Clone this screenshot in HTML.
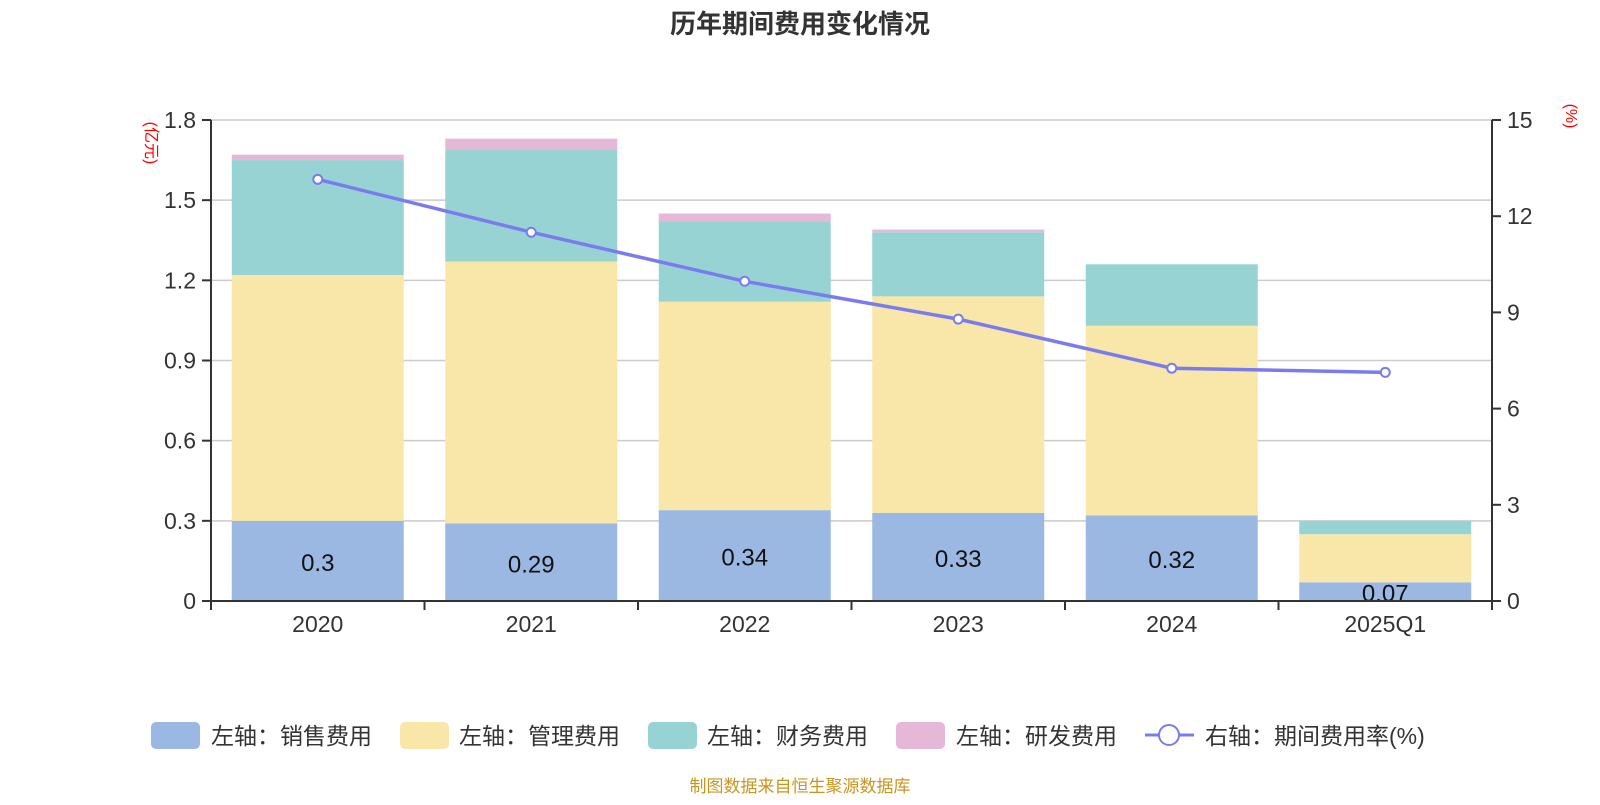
<!DOCTYPE html>
<html><head><meta charset="utf-8"><style>
body{margin:0;background:#fff;font-family:"Liberation Sans","Noto Sans CJK SC",sans-serif;}
svg text{font-family:"Liberation Sans","Noto Sans CJK SC",sans-serif;}
</style></head><body>
<svg id="c" width="1600" height="800" xmlns="http://www.w3.org/2000/svg">
<text x="800" y="33" text-anchor="middle" font-size="26" font-weight="bold" fill="#333">历年期间费用变化情况</text>
<text transform="translate(146,143) rotate(90)" text-anchor="middle" font-size="16" fill="red">(亿元)</text>
<text transform="translate(1566,116) rotate(90)" text-anchor="middle" font-size="16" fill="red">(%)</text>
<g id="grid"></g><g id="bars"></g><g id="axes"></g><g id="line"></g>
<g font-size="23" fill="#333">
<rect x="151" y="722" width="49" height="27" rx="5" fill="#9bb8e2"/><text x="211" y="744">左轴：销售费用</text>
<rect x="400" y="722" width="49" height="27" rx="5" fill="#f8e7a8"/><text x="459" y="744">左轴：管理费用</text>
<rect x="648" y="722" width="49" height="27" rx="5" fill="#98d3d4"/><text x="707" y="744">左轴：财务费用</text>
<rect x="896" y="722" width="49" height="27" rx="5" fill="#e6b8d8"/><text x="956" y="744">左轴：研发费用</text>
<line x1="1145" y1="735" x2="1194" y2="735" stroke="#7b7bf0" stroke-width="3"/><circle cx="1169" cy="735" r="10" fill="#fff" stroke="#7b7bf0" stroke-width="2"/><text x="1205" y="744">右轴：期间费用率(%)</text>
</g>
<text x="800" y="792" text-anchor="middle" font-size="17" fill="#c8961e">制图数据来自恒生聚源数据库</text>
</svg>
<script>
const categories=["2020","2021","2022","2023","2024","2025Q1"];
const sales=[0.30,0.29,0.34,0.33,0.32,0.07];
const admin=[0.92,0.98,0.78,0.81,0.71,0.18];
const finance=[0.43,0.42,0.30,0.24,0.23,0.05];
const rd=[0.02,0.04,0.03,0.01,0,0];
const rate=[13.15,11.5,9.97,8.79,7.26,7.13];
const leftTicks=["0","0.3","0.6","0.9","1.2","1.5","1.8"];
const rightTicks=["0","3","6","9","12","15"];
const NS="http://www.w3.org/2000/svg";
const X0=211,X1=1492,Y0=601,Y1=120;
const yL=v=>Y0-(v/1.8)*(Y0-Y1);
const yR=v=>Y0-(v/15)*(Y0-Y1);
const bw=(X1-X0)/categories.length;
const xc=i=>X0+bw*(i+0.5);
function mk(t,a,p){const e=document.createElementNS(NS,t);for(const k in a)e.setAttribute(k,a[k]);document.getElementById(p).appendChild(e);return e;}
leftTicks.forEach((t,i)=>{const v=+t,y=yL(v);
 const g=mk('line',{x1:X0,x2:X1,y1:y,y2:y,stroke:i==0?'#333':'#ccc','stroke-width':1.5},'grid');
 
 
 const tk=mk('line',{x1:X0-9,x2:X0,y1:y,y2:y,stroke:'#333','stroke-width':2},'axes');
 
 
 const tx=mk('text',{x:X0-15,y:y+8,'text-anchor':'end','font-size':23,fill:'#333'},'axes');tx.textContent=t;
 
 });
rightTicks.forEach(t=>{const y=yR(+t);
 const tk=mk('line',{x1:X1,x2:X1+9,y1:y,y2:y,stroke:'#333','stroke-width':2},'axes');
 
 
 const tx=mk('text',{x:X1+15,y:y+8,'font-size':23,fill:'#333'},'axes');tx.textContent=t;
 
 });
let a=mk('line',{x1:X0,x2:X0,y1:Y1,y2:Y0,stroke:'#333','stroke-width':2},'axes');


a=mk('line',{x1:X1,x2:X1,y1:Y1,y2:Y0,stroke:'#333','stroke-width':2},'axes');


a=mk('line',{x1:X0-3,x2:X1+3,y1:Y0,y2:Y0,stroke:'#333','stroke-width':2},'axes');


for(let i=0;i<=categories.length;i++){const t=mk('line',{x1:X0+bw*i,x2:X0+bw*i,y1:Y0,y2:Y0+9,stroke:'#333','stroke-width':2},'axes');
 
 }
const series=[[sales,'#9bb8e2','bar-sales'],[admin,'#f8e7a8','bar-admin'],[finance,'#98d3d4','bar-finance'],[rd,'#e6b8d8','bar-rd']];
categories.forEach((c,i)=>{let base=0;
 series.forEach(s=>{const v=s[0][i];if(v<=0)return;
  const r=mk('rect',{x:xc(i)-86,width:172,y:yL(base+v),height:yL(base)-yL(base+v),fill:s[1]},'bars');
  
  
  base+=v;});
 const l=mk('text',{x:xc(i),y:(yL(0)+yL(sales[i]))/2+10,'text-anchor':'middle','font-size':24,fill:'#111'},'bars');l.textContent=String(sales[i]);
 
 
 const xl=mk('text',{x:xc(i),y:632,'text-anchor':'middle','font-size':23,fill:'#333'},'axes');xl.textContent=c;
 
 });
const pl=mk('polyline',{points:rate.map((v,i)=>xc(i)+','+yR(v)).join(' '),fill:'none',stroke:'#7b7bf0','stroke-width':3.5},'line');


rate.forEach((v,i)=>{const p=mk('circle',{cx:xc(i),cy:yR(v),r:4.5,fill:'#fff',stroke:'#7b7bf0','stroke-width':2},'line');
 
 });
</script>
</body></html>
